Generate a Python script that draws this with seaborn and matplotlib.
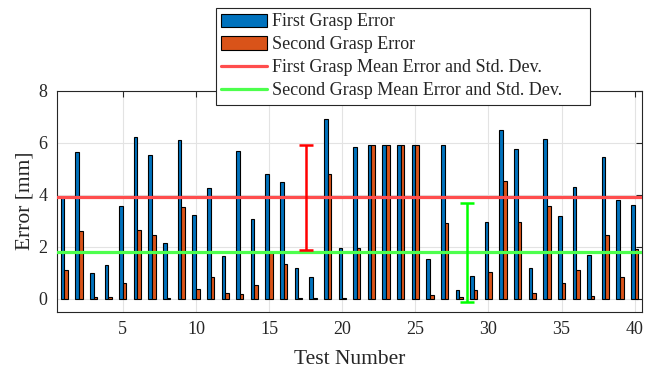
import numpy as np
import pandas as pd
import matplotlib
matplotlib.use("Agg")
import matplotlib.pyplot as plt
import seaborn as sns
from matplotlib.patches import Patch
from matplotlib.lines import Line2D

# Per-test grasp errors in millimetres
tests = list(range(1, 41))
first_grasp = [3.91, 5.64, 1.00, 1.28, 3.57, 6.22, 5.53, 2.14, 6.10, 3.22,
               4.24, 1.63, 5.68, 3.06, 4.81, 4.47, 1.19, 0.82, 6.93, 1.95,
               5.85, 5.90, 5.90, 5.90, 5.90, 1.53, 5.90, 0.32, 0.87, 2.94,
               6.47, 5.75, 1.19, 6.13, 3.19, 4.30, 1.70, 5.46, 3.78, 3.61]
second_grasp = [1.12, 2.62, 0.05, 0.08, 0.61, 2.66, 2.46, 0.03, 3.52, 0.38,
                0.83, 0.23, 0.19, 0.54, 1.79, 1.34, 0.04, 0.04, 4.81, 0.02,
                1.95, 5.90, 5.90, 5.90, 5.90, 0.15, 2.91, 0.07, 0.32, 1.03,
                4.51, 2.94, 0.23, 3.57, 0.60, 1.11, 0.10, 2.46, 0.82, 1.93]
series_names = ["First Grasp Error", "Second Grasp Error"]
mean_names = ["First Grasp Mean Error and Std. Dev.",
              "Second Grasp Mean Error and Std. Dev."]
x_ticks = [5, 10, 15, 20, 25, 30, 35, 40]
y_ticks = [0, 2, 4, 6, 8]

# where the std-dev whiskers are placed along the x axis
first_err_x = 17.5
second_err_x = 28.5

blue = "#0072BD"
orange = "#D95319"
red_line = "#ff4d4d"
green_line = "#4dff4d"
ink = "#262626"

sns.set_theme(style="white")
plt.rcParams["font.family"] = ["Liberation Serif", "DejaVu Serif"]

df = pd.DataFrame({
    "Test": tests * 2,
    "Error": first_grasp + second_grasp,
    "Grasp": [series_names[0]] * len(tests) + [series_names[1]] * len(tests),
})

W, H = 657, 372
fig = plt.figure(figsize=(W / 100, H / 100), dpi=100)
ax = fig.add_axes([57 / W, 1 - 311.7 / H, (642 - 57) / W, (311.7 - 90.7) / H])

sns.barplot(data=df, x="Test", y="Error", hue="Grasp", native_scale=True,
            palette=[blue, orange], width=0.5, gap=0, edgecolor="black",
            linewidth=0.8, errorbar=None, legend=False, saturation=1, ax=ax)

m1, s1 = np.mean(first_grasp), np.std(first_grasp, ddof=1)
m2, s2 = np.mean(second_grasp), np.std(second_grasp, ddof=1)

ax.axhline(m1, color=red_line, lw=2.3, zorder=5)
ax.axhline(m2, color=green_line, lw=2.3, zorder=5)
ax.errorbar(first_err_x, m1, yerr=s1, color="red", lw=1.8, capsize=5,
            capthick=1.8, zorder=6)
ax.errorbar(second_err_x, m2, yerr=s2, color="#00ff00", lw=1.8, capsize=5,
            capthick=1.8, zorder=6)

ax.set_xlim(0.5, 40.5)
ax.set_ylim(-0.5, 8)
ax.set_xticks(x_ticks)
ax.set_xticklabels([str(t) for t in x_ticks])
ax.set_yticks(y_ticks)
ax.set_yticklabels([str(t) for t in y_ticks])
ax.grid(True, color="#e3e3e3", lw=0.8)
ax.set_axisbelow(True)
ax.tick_params(direction="in", length=4, width=0.8, top=True, right=True,
               labelsize=13, colors=ink)
ax.tick_params(axis="x", pad=7)
ax.tick_params(axis="y", pad=7)
for sp in ax.spines.values():
    sp.set_visible(True)
    sp.set_color(ink)
    sp.set_linewidth(0.8)
ax.set_xlabel("Test Number", fontsize=15.5, color=ink, labelpad=8)
ax.set_ylabel("Error [mm]", fontsize=15.5, color=ink, labelpad=3)

handles = [
    Patch(facecolor=blue, edgecolor="black", linewidth=0.8),
    Patch(facecolor=orange, edgecolor="black", linewidth=0.8),
    Line2D([], [], color=red_line, lw=2.3),
    Line2D([], [], color=green_line, lw=2.3),
]
leg = fig.legend(handles, series_names + mean_names, loc="upper left",
                 bbox_to_anchor=(216 / W, 1 - 101 / H, (590 - 216) / W, 93 / H),
                 mode="expand", fontsize=13, frameon=True, fancybox=False,
                 framealpha=1, edgecolor=ink, handlelength=2.5,
                 handleheight=0.75, handletextpad=0.3, labelspacing=0.33,
                 borderpad=0.3, borderaxespad=0)
leg.get_frame().set_linewidth(0.8)
leg.set_zorder(10)

fig.savefig("out.png", dpi=100)
